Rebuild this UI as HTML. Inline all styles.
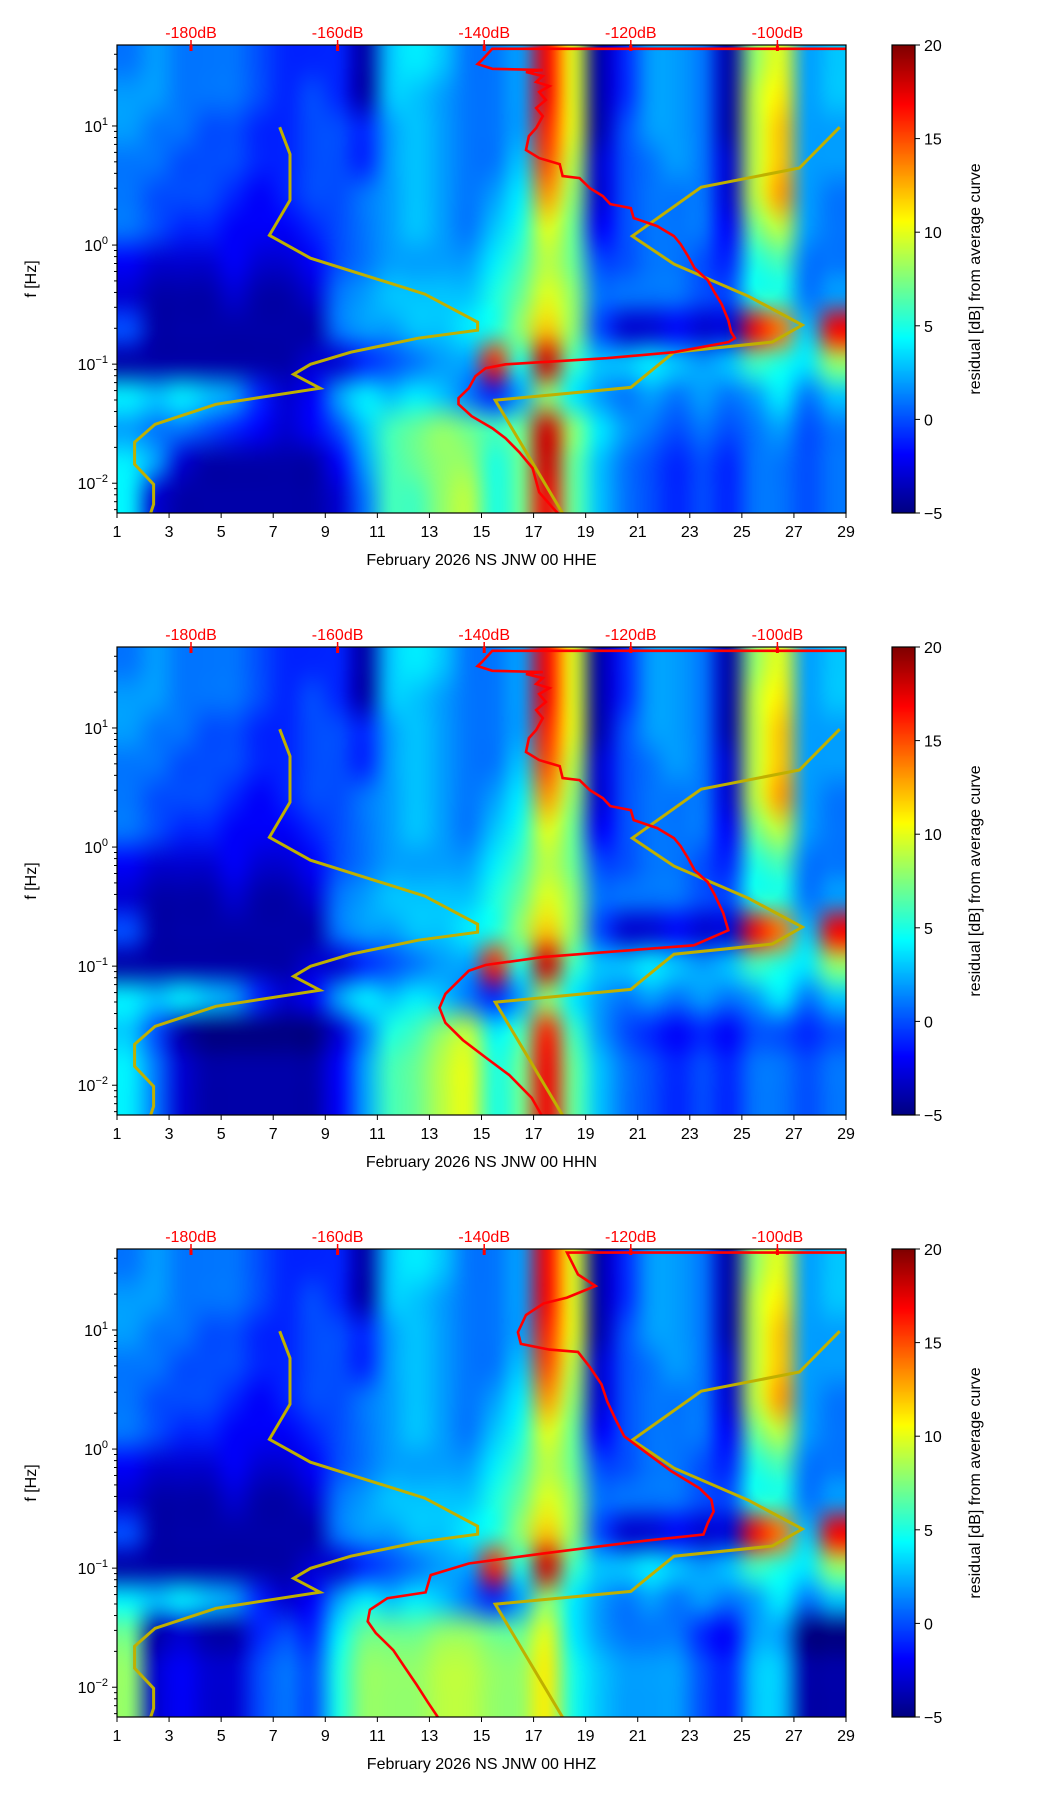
<!DOCTYPE html>
<html><head><meta charset="utf-8">
<style>
html,body{margin:0;padding:0;background:#fff;}
body{width:1052px;height:1806px;position:relative;overflow:hidden;font-family:"Liberation Sans","DejaVu Sans",sans-serif;}
canvas{position:absolute;}
svg{position:absolute;left:0;top:0;}
</style></head>
<body>
<svg id="fig" width="1052" height="1806"></svg>
<script>
// ---- data ----
const days = [1,3,5,7,9,11,13,15,17,19,21,23,25,27,29];
const dbTicks = [-180,-160,-140,-120,-100];
const cbTicks = [20,15,10,5,0,-5];
const decades = [1,0,-1,-2];
const stations = ["February 2026 NS JNW 00 HHE","February 2026 NS JNW 00 HHN","February 2026 NS JNW 00 HHZ"];
// residual grid: 28 day columns x 14 freq rows (top=high freq)
const residual = [
[1,2,2,1,1,1,-2,-3,0,-4,4,2,4,4],
[2,2,1,1,0,0,-3,-4,-4,-4,3,1,2,-3],
[1,1,1,0,0,-1,-3,-4,-4,-4,4,1,-3,-4],
[1,1,0,0,0,-1,-3,-4,-4,-4,3,0,-4,-4],
[1,1,0,0,-1,-2,-2,-3,-4,-4,2,-1,-4,-4],
[0,0,-1,-1,-2,-2,-3,-4,-4,-4,-1,-2,-4,-4],
[-1,-1,-1,-1,-1,-2,-3,-4,-4,-4,-3,-3,-4,-4],
[-1,0,0,0,0,-1,-2,-3,-4,-3,-2,-2,-4,-4],
[-1,-1,0,0,0,0,0,1,1,-3,2,0,-2,-3],
[-4,-4,-1,-1,1,1,1,2,2,-1,4,3,2,1],
[3,3,2,2,2,2,2,3,2,0,3,6,6,6],
[4,3,3,3,3,3,2,3,3,1,4,7,7,6],
[3,2,2,2,2,2,2,3,3,2,3,8,8,8],
[1,1,1,1,1,1,2,3,4,2,1,7,8,9],
[1,1,1,1,2,3,4,5,5,16,-1,6,5,5],
[2,2,2,3,4,5,6,7,8,5,2,7,7,7],
[17,17,16,15,13,10,9,10,12,18,8,18,18,17],
[10,10,10,9,8,7,7,8,8,6,4,8,7,7],
[-4,-4,-4,-3,-3,-2,0,1,0,3,2,4,3,3],
[-1,-1,0,0,0,0,0,1,-3,3,1,2,1,1],
[2,2,2,1,1,1,1,1,-3,4,2,1,0,0],
[2,2,2,2,1,1,1,1,-2,3,1,0,-1,-1],
[1,1,1,1,1,1,0,0,-3,2,2,1,0,0],
[-4,-4,-4,-3,-3,-2,-1,0,-3,3,1,0,-1,-1],
[8,9,9,9,9,7,5,5,17,6,2,1,1,1],
[10,11,12,12,13,9,6,5,14,5,4,2,1,1],
[2,2,2,2,2,2,1,1,3,4,1,0,0,0],
[3,3,2,2,1,1,1,2,17,8,3,1,1,1]];
// low-frequency (rows 11-13) overrides per panel
const lowHHN = [4,1,-3,-4,-4,-4,-4,-4,-2,2,6,7,9,10,5,7,17,7,3,1,0,-1,0,-1,1,1,0,1];
const lowHHZ = [8,-3,-2,-3,-3,0,1,0,5,8,8,8,9,9,8,8,11,5,3,2,2,2,0,-1,3,3,-4,-4];
// red curves: dB values and log10 frequency
const redDbE = [-90.2,-138.9,-140.3,-140.9,-138.9,-132.0,-134.3,-132.0,-132.9,-131.1,-132.5,-131.6,-132.9,-132.0,-132.9,-133.9,-134.3,-132.5,-129.7,-129.3,-127.0,-125.6,-123.8,-122.8,-120.0,-119.6,-116.4,-114.1,-113.2,-112.2,-111.3,-109.5,-108.6,-107.6,-106.7,-106.3,-105.8,-106.7,-114.1,-123.3,-137.1,-139.8,-141.2,-142.1,-143.5,-143.5,-141.7,-138.9,-137.1,-135.2,-133.4,-132.5,-130.6,-129.3];
const redLfE = [1.648,1.648,1.554,1.520,1.480,1.470,1.453,1.419,1.369,1.335,1.285,1.218,1.151,1.083,0.983,0.915,0.798,0.730,0.680,0.579,0.562,0.478,0.411,0.344,0.310,0.226,0.159,0.075,0.008,-0.093,-0.194,-0.295,-0.396,-0.497,-0.631,-0.732,-0.782,-0.816,-0.900,-0.950,-1.001,-1.034,-1.101,-1.202,-1.286,-1.336,-1.437,-1.538,-1.622,-1.740,-1.874,-2.076,-2.210,-2.294];
const redDbN = redDbE.slice(0,33).concat([-107.4,-106.7,-111.4,-131.9,-139.8,-142.1,-143.7,-145.3,-146.1,-145.3,-142.9,-139.8,-136.6,-133.5,-131.9]);
const redLfN = redLfE.slice(0,33).concat([-0.553,-0.699,-0.825,-0.922,-0.990,-1.039,-1.136,-1.233,-1.350,-1.476,-1.621,-1.767,-1.913,-2.107,-2.282]);
const redDbZ = [-90.3,-128.7,-127.2,-124.8,-128.7,-131.9,-134.3,-135.4,-135.0,-131.1,-127.2,-125.6,-124.0,-123.2,-122.1,-120.9,-117.7,-114.5,-110.6,-109.0,-108.7,-109.5,-110.1,-117.7,-130.3,-142.1,-147.3,-148.0,-153.2,-155.6,-155.9,-154.8,-152.4,-150.8,-149.2,-147.7,-146.1];
const redLfZ = [1.650,1.650,1.466,1.369,1.272,1.223,1.126,0.981,0.883,0.835,0.816,0.689,0.544,0.398,0.252,0.107,-0.039,-0.184,-0.330,-0.427,-0.524,-0.621,-0.718,-0.767,-0.864,-0.961,-1.058,-1.204,-1.252,-1.350,-1.447,-1.544,-1.689,-1.835,-1.981,-2.126,-2.272];
// yellow reference curves (low / high noise model)
const lowDb = [-167.9,-166.5,-166.5,-169.3,-163.7,-148.1,-140.9,-140.9,-149.0,-158.2,-163.7,-166.0,-162.4,-176.6,-184.9,-187.7,-187.7,-185.1,-185.1,-185.8];
const lowLf = [0.990,0.764,0.377,0.082,-0.110,-0.412,-0.648,-0.715,-0.782,-0.900,-1.001,-1.085,-1.202,-1.337,-1.505,-1.656,-1.841,-2.009,-2.177,-2.305];
const highDb = [-91.5,-97.0,-110.4,-119.8,-114.1,-104.0,-96.6,-100.7,-114.1,-120.0,-138.5,-128.8];
const highLf = [0.990,0.647,0.486,0.075,-0.160,-0.429,-0.671,-0.815,-0.900,-1.195,-1.303,-2.305];

// ---- layout ----
const AX_L=117, AX_R=846, AX_H=468, TOPS=[45,647,1249];
const LF_TOP=1.68, LF_BOT=-2.25;
const CB_L=892, CB_R=915;
const NS="http://www.w3.org/2000/svg";
const svg=document.getElementById('fig');
function el(tag,attrs,parent){const e=document.createElementNS(NS,tag);for(const k in attrs)e.setAttribute(k,attrs[k]);(parent||svg).appendChild(e);return e;}
const xDay=d=>AX_L+(d-1)*(AX_R-AX_L)/28;
const xDb=db=>191+(db+180)*7.33;
const yLf=(lf,top)=>top+(LF_TOP-lf)/(LF_TOP-LF_BOT)*AX_H;
function jet(v){let t=(v+5)/25;t=Math.max(0,Math.min(1,t));
 const r=Math.max(0,Math.min(1,1.5-Math.abs(4*t-3))),g=Math.max(0,Math.min(1,1.5-Math.abs(4*t-2))),b=Math.max(0,Math.min(1,1.5-Math.abs(4*t-1)));
 return [r*255|0,g*255|0,b*255|0];}

const reds=[[redDbE,redLfE],[redDbN,redLfN],[redDbZ,redLfZ]];
const lows=[null,lowHHN,lowHHZ];

TOPS.forEach((top,p)=>{
 const small=document.createElement('canvas');small.width=28;small.height=14;
 const sc=small.getContext('2d');const img=sc.createImageData(28,14);
 for(let c=0;c<28;c++)for(let r=0;r<14;r++){
  let v=residual[c][r];
  if(lows[p]&&r>=11) v=lows[p][c]-(r===11?1:0);
  const [R,G,B]=jet(v);const i=(r*28+c)*4;img.data[i]=R;img.data[i+1]=G;img.data[i+2]=B;img.data[i+3]=255;}
 sc.putImageData(img,0,0);
 const cv=document.createElement('canvas');cv.width=AX_R-AX_L;cv.height=AX_H;
 cv.style.left=AX_L+'px';cv.style.top=top+'px';
 
 
 const ctx=cv.getContext('2d');ctx.imageSmoothingEnabled=true;ctx.imageSmoothingQuality='high';
 ctx.drawImage(small,0,0,cv.width,cv.height);
 document.body.insertBefore(cv,svg);
 const cb=document.createElement('canvas');cb.width=CB_R-CB_L;cb.height=AX_H;
 cb.style.left=CB_L+'px';cb.style.top=top+'px';
 
 
 const cc=cb.getContext('2d');
 for(let y=0;y<AX_H;y++){const [R,G,B]=jet(20-25*y/AX_H);cc.fillStyle=`rgb(${R},${G},${B})`;cc.fillRect(0,y,cb.width,1);}
 document.body.insertBefore(cb,svg);

 const g=el('g',{});
 
 
 const cp=el('clipPath',{id:'clip'+p},g);el('rect',{x:AX_L,y:top-3,width:AX_R-AX_L,height:AX_H+3},cp);
 [[lowDb,lowLf,'low-noise-model-line'],[highDb,highLf,'high-noise-model-line']].forEach(([dbs,lfs,nm])=>{
  const pts=dbs.map((d,i)=>xDb(d).toFixed(1)+','+yLf(lfs[i],top).toFixed(1)).join(' ');
  const l=el('polyline',{points:pts,fill:'none',stroke:'#bfb000',"stroke-width":3,"clip-path":`url(#clip${p})`},g);
  
  
 });
 const [rd,rl]=reds[p];
 const rpts=rd.map((d,i)=>xDb(d).toFixed(1)+','+yLf(rl[i],top).toFixed(1)).join(' ');
 const rline=el('polyline',{points:rpts,fill:'none',stroke:'#ff0000',"stroke-width":2.6,"clip-path":`url(#clip${p})`},g);
 
 
 const fr=el('rect',{x:AX_L,y:top,width:AX_R-AX_L,height:AX_H,fill:'none',stroke:'#000',"stroke-width":1.2},g);
 
 
 const cbf=el('rect',{x:CB_L,y:top,width:CB_R-CB_L,height:AX_H,fill:'none',stroke:'#000',"stroke-width":1.2},g);
 
 
 days.forEach(d=>{const x=xDay(d);
  el('line',{x1:x,x2:x,y1:top+AX_H,y2:top+AX_H+5,stroke:'#000',"stroke-width":1},g);
  const t=el('text',{x:x,y:top+AX_H+24,"text-anchor":'middle',"font-size":16,fill:'#000'},g);t.textContent=d;
  
  
 });
 const xl=el('text',{x:(AX_L+AX_R)/2,y:top+AX_H+52,"text-anchor":'middle',"font-size":16,fill:'#000'},g);xl.textContent=stations[p];
 
 
 dbTicks.forEach(db=>{const x=xDb(db);
  el('line',{x1:x,x2:x,y1:top,y2:top-5,stroke:'#ff0000',"stroke-width":1.5},g);
  el('line',{x1:x,x2:x,y1:top,y2:top+6,stroke:'#ff0000',"stroke-width":3},g);
  const t=el('text',{x:x,y:top-7,"text-anchor":'middle',"font-size":16,fill:'#ff0000'},g);t.textContent=db+'dB';
  
  
 });
 for(let dec=-3;dec<=1;dec++){for(let m=1;m<10;m++){const lf=dec+Math.log10(m);
  if(lf>LF_TOP||lf<LF_BOT)continue;const y=yLf(lf,top);
  el('line',{x1:AX_L,x2:AX_L-(m===1?5:3),y1:y,y2:y,stroke:'#000',"stroke-width":1},g);}}
 decades.forEach(dec=>{const y=yLf(dec,top);
  const t=el('text',{x:AX_L-9,y:y+6,"text-anchor":'end',"font-size":16,fill:'#000'},g);
  
  
  t.innerHTML='10<tspan dy="-7" font-size="11">'+(dec<0?'\u2212'+(-dec):dec)+'</tspan>';
 });
 const yl=el('text',{x:36,y:top+AX_H/2,"text-anchor":'middle',"font-size":16,fill:'#000',transform:`rotate(-90 36 ${top+AX_H/2})`},g);yl.textContent='f [Hz]';
 
 
 cbTicks.forEach(v=>{const y=top+(20-v)/25*AX_H;
  el('line',{x1:CB_R,x2:CB_R+5,y1:y,y2:y,stroke:'#000',"stroke-width":1},g);
  const t=el('text',{x:CB_R+9,y:y+6,"font-size":16,fill:'#000'},g);t.textContent=v<0?'\u2212'+(-v):v;
  
  
 });
 const cl=el('text',{x:980,y:top+AX_H/2,"text-anchor":'middle',"font-size":16,fill:'#000',transform:`rotate(-90 980 ${top+AX_H/2})`},g);cl.textContent='residual [dB] from average curve';
 
 
});
</script>
</body></html>
